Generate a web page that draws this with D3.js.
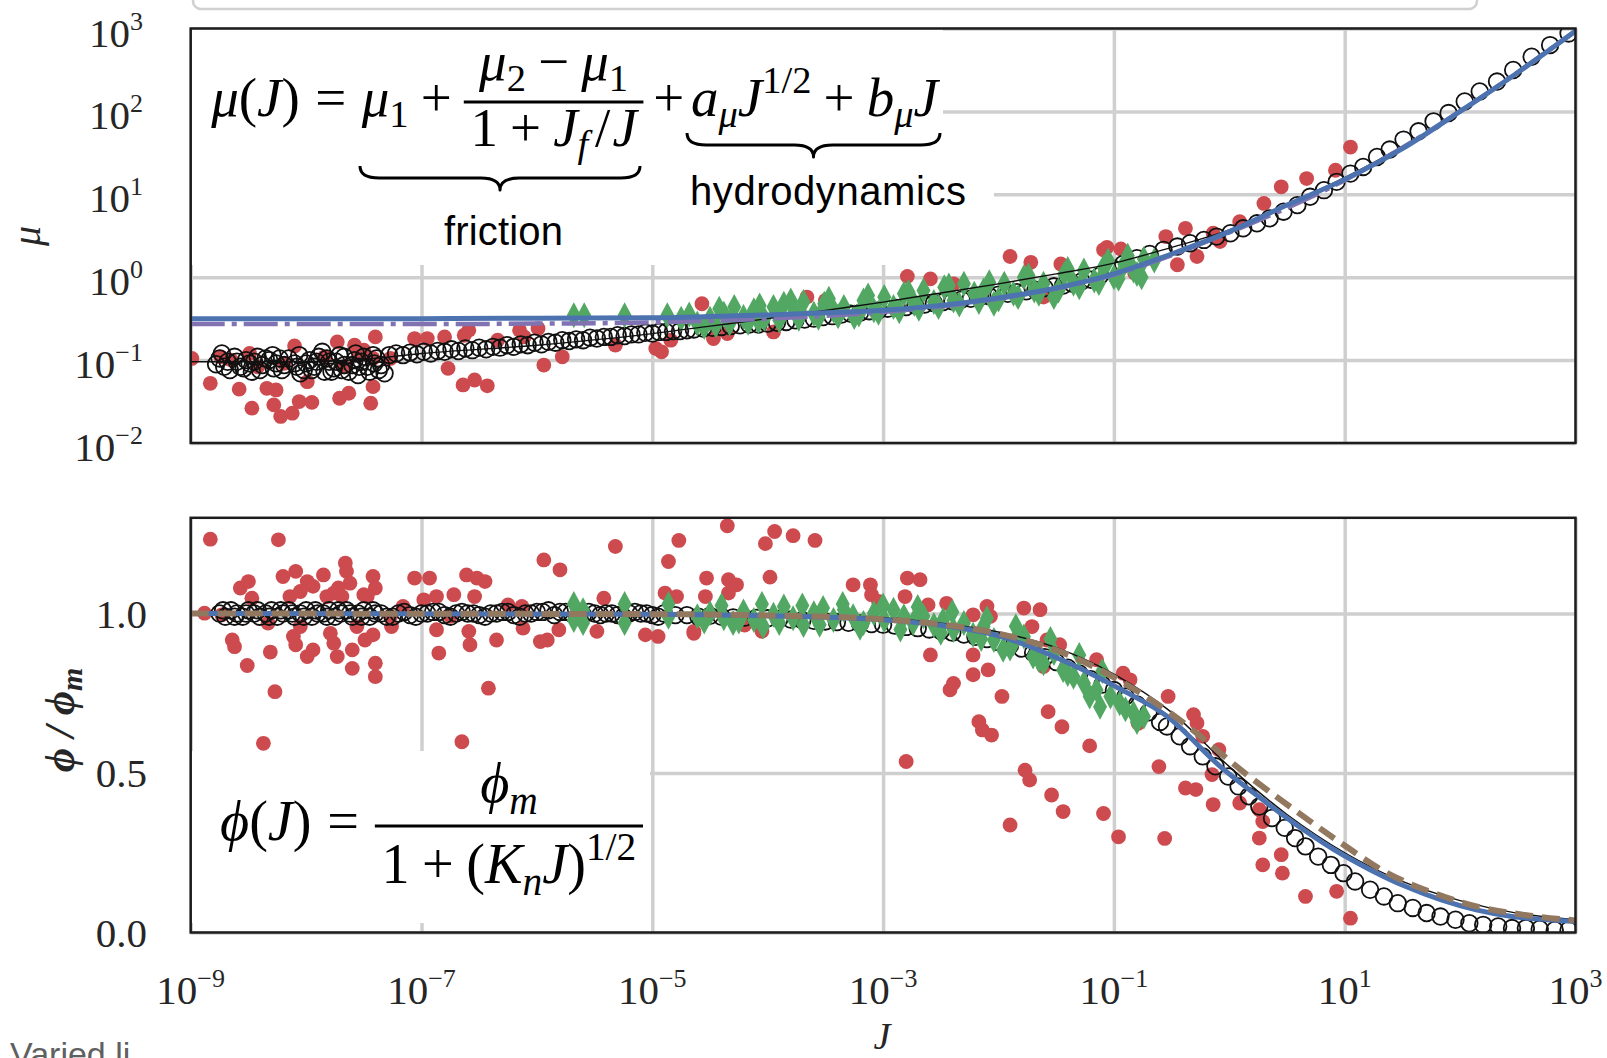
<!DOCTYPE html>
<html>
<head>
<meta charset="utf-8">
<script src="https://cdn.jsdelivr.net/npm/d3@7"></script>
<style>
  body { margin: 0; background: #fff; }
  svg { display: block; }
</style>
</head>
<body>
<svg id="chart" width="1607" height="1058"></svg>
<script>
// mu(J) and phi(J) vs inertial number J, two stacked panels.
// All series are [log10 J, log10 mu] (top) or [log10 J, phi/phi_m] (bottom).

const xTicks = [-9, -7, -5, -3, -1, 1, 3];
const muTicks = [-2, -1, 0, 1, 2, 3];
const phiTicks = [0, 0.5, 1.0];
const phiTickLabels = ['0.0', '0.5', '1.0'];

// ---- top panel: mu ----
const muRed = [
  [-8.99,-0.98],[-8.83,-1.28],[-8.74,-0.96],[-8.65,-1.00],[-8.58,-1.35],[-8.49,-0.92],[-8.47,-1.58],[-8.42,-1.08],
  [-8.34,-1.34],[-8.28,-1.54],[-8.26,-1.36],[-8.22,-1.68],[-8.19,-1.04],[-8.12,-1.64],[-8.10,-0.83],[-8.06,-1.50],
  [-7.99,-1.26],[-7.95,-1.51],[-7.84,-0.96],[-7.73,-0.78],[-7.71,-1.46],[-7.67,-1.08],[-7.63,-1.40],[-7.58,-0.82],
  [-7.54,-0.94],[-7.50,-0.88],[-7.44,-1.52],[-7.42,-1.32],[-7.42,-0.98],[-7.40,-0.72],[-7.27,-0.98],[-7.06,-0.74],
  [-6.95,-0.74],[-6.80,-0.72],[-6.77,-1.10],[-6.64,-1.30],[-6.63,-0.70],[-6.59,-0.64],[-6.54,-1.24],[-6.43,-1.31],
  [-6.34,-0.76],[-6.15,-0.64],[-6.11,-0.72],[-5.99,-0.62],[-5.94,-1.06],[-5.78,-0.96],[-5.32,-0.82],[-4.97,-0.86],
  [-4.92,-0.90],[-4.84,-0.76],[-4.57,-0.32],[-4.47,-0.74],[-4.35,-0.68],[-3.95,-0.66],[-3.66,-0.24],[-3.50,-0.28],
  [-2.79,0.01],[-2.59,-0.02],[-2.39,-0.08],[-1.90,0.25],[-1.72,0.18],[-1.61,-0.24],[-1.46,0.16],[-1.06,0.36],
  [-0.94,0.34],[-1.09,0.33],[-0.82,0.05],[-0.55,0.49],[-0.45,0.15],[-0.38,0.59],[-0.28,0.25],[-0.14,0.53],
  [-0.08,0.43],[0.09,0.67],[0.30,0.89],[0.45,1.09],[0.67,1.19],[0.92,1.29],[1.05,1.57]
];

const muOpen = [
  [-8.75,-0.98],[-8.71,-1.08],[-8.68,-1.02],[-8.62,-0.96],[-8.57,-1.08],[-8.52,-1.00],[-8.49,-1.04],[-8.47,-1.14],
  [-8.42,-0.96],[-8.38,-1.06],[-8.32,-1.00],[-8.29,-0.94],[-8.28,-1.10],[-8.23,-0.98],[-8.19,-1.06],[-8.10,-1.04],
  [-8.06,-0.94],[-8.05,-1.16],[-8.02,-1.12],[-7.97,-1.00],[-7.93,-1.08],[-7.89,-0.96],[-7.86,-0.90],[-7.84,-1.14],
  [-7.80,-1.02],[-7.76,-1.10],[-7.71,-0.94],[-7.67,-1.06],[-7.67,-0.96],[-7.63,-1.14],[-7.58,-1.00],[-7.55,-1.18],
  [-7.54,-1.08],[-7.50,-0.96],[-7.45,-1.14],[-7.42,-0.94],[-7.41,-1.04],[-7.37,-1.12],[-7.32,-1.16],
  [-8.78,-1.05],[-8.73,-0.92],[-8.66,-1.12],[-8.60,-1.02],[-8.54,-1.10],[-8.45,-1.02],[-8.40,-1.12],[-8.35,-0.98],
  [-8.26,-1.04],[-8.21,-1.12],[-8.15,-0.98],[-8.08,-1.08],[-8.00,-1.04],[-7.95,-1.12],[-7.91,-1.02],[-7.82,-0.98],
  [-7.78,-1.14],[-7.74,-1.02],[-7.69,-1.12],[-7.60,-1.06],[-7.57,-0.92],[-7.52,-1.02],[-7.47,-1.08],[-7.39,-0.98],
  [-7.35,-1.06],
  [-7.28,-0.94],[-7.22,-0.92],[-7.16,-0.94],[-7.10,-0.91],[-7.04,-0.93],[-6.98,-0.90],[-6.92,-0.92],[-6.86,-0.89],
  [-6.80,-0.90],[-6.74,-0.87],[-6.68,-0.89],[-6.62,-0.86],[-6.56,-0.88],[-6.50,-0.85],[-6.44,-0.87],[-6.38,-0.84],
  [-6.32,-0.85],[-6.26,-0.82],[-6.20,-0.84],[-6.14,-0.81],[-6.08,-0.82],[-6.02,-0.79],[-5.96,-0.81],[-5.90,-0.78],
  [-5.84,-0.79],[-5.78,-0.76],[-5.72,-0.77],[-5.66,-0.75],[-5.60,-0.76],[-5.54,-0.73],[-5.48,-0.74],[-5.42,-0.72],
  [-5.36,-0.72],[-5.30,-0.70],[-5.24,-0.71],[-5.18,-0.69],[-5.12,-0.69],[-5.06,-0.67],[-5.00,-0.68],[-4.94,-0.66],
  [-4.88,-0.66],[-4.82,-0.65],[-4.76,-0.65],[-4.70,-0.64],
  [-4.64,-0.63],[-4.56,-0.62],[-4.48,-0.61],[-4.40,-0.60],[-4.32,-0.59],[-4.24,-0.58],[-4.16,-0.57],[-4.08,-0.57],
  [-4.00,-0.56],[-3.92,-0.55],[-3.84,-0.54],[-3.76,-0.52],[-3.68,-0.51],[-3.60,-0.50],[-3.52,-0.48],[-3.44,-0.47],
  [-3.36,-0.45],[-3.28,-0.44],[-3.20,-0.43],[-3.12,-0.41],[-3.04,-0.40],[-2.96,-0.38],[-2.88,-0.37],[-2.80,-0.36],
  [-2.72,-0.34],[-2.64,-0.33],[-2.56,-0.31],[-2.48,-0.30],[-2.40,-0.29],[-2.32,-0.27],[-2.24,-0.26],[-2.16,-0.24],
  [-2.08,-0.23],[-2.00,-0.21],[-1.92,-0.20],[-1.84,-0.18],[-1.76,-0.17],[-1.68,-0.15],[-1.60,-0.13],[-1.52,-0.11],
  [-1.44,-0.10],[-1.36,-0.08],[-1.28,-0.05],[-1.20,-0.03],[-1.12,0.02],
  [-1.00,0.10],[-0.92,0.16],[-0.80,0.23],[-0.69,0.28],[-0.57,0.33],[-0.45,0.37],[-0.34,0.41],[-0.22,0.45],
  [-0.11,0.49],[0.01,0.53],[0.12,0.59],[0.24,0.65],[0.35,0.71],[0.47,0.79],[0.59,0.87],[0.70,0.97],
  [0.82,1.05],[0.93,1.15],[1.05,1.25],[1.16,1.33],[1.28,1.45],[1.39,1.54],[1.51,1.66],[1.64,1.76],
  [1.77,1.88],[1.90,1.98],[2.04,2.12],[2.17,2.24],[2.32,2.36],[2.46,2.50],[2.62,2.66],[2.78,2.80],[2.94,2.94]
];

const muGreen = [
  [-5.68,-0.46],[-5.59,-0.46],[-5.24,-0.46],[-4.87,-0.46],[-4.75,-0.50],[-4.68,-0.45],
  [-4.61,-0.56],[-4.50,-0.50],[-4.38,-0.44],[-4.29,-0.36],[-4.21,-0.48],[-4.12,-0.40],[-4.03,-0.50],[-3.95,-0.36],
  [-3.86,-0.32],[-3.77,-0.40],[-3.69,-0.30],[-3.60,-0.44],[-3.51,-0.32],[-3.43,-0.40],[-3.34,-0.36],[-3.25,-0.48],
  [-3.17,-0.28],[-3.08,-0.40],[-2.99,-0.24],[-2.91,-0.36],[-2.82,-0.20],[-2.73,-0.32],[-2.65,-0.16],[-2.56,-0.30],
  [-2.47,-0.12],[-2.39,-0.28],[-2.30,-0.08],[-2.21,-0.20],[-2.13,-0.16],[-2.04,-0.32],[-1.95,-0.08],[-1.87,-0.20],
  [-1.78,0.00],[-1.69,-0.16],[-1.61,-0.08],[-1.52,-0.24],[-1.43,0.04],[-1.35,-0.08],[-1.26,0.08],[-1.17,-0.04],
  [-1.09,0.12],[-1.00,0.00],[-0.91,0.16],[-0.83,0.08],[-0.76,0.00],[-0.74,0.22],[-0.65,0.20],
  [-4.55,-0.60],[-4.45,-0.58],[-4.33,-0.56],[-4.17,-0.55],[-4.08,-0.53],[-3.90,-0.52],[-3.73,-0.50],[-3.56,-0.49],
  [-3.39,-0.47],[-3.21,-0.45],[-3.04,-0.43],[-2.86,-0.41],[-2.69,-0.38],[-2.52,-0.36],[-2.34,-0.33],[-2.17,-0.30],
  [-2.00,-0.27],[-1.83,-0.24],[-1.65,-0.20],[-1.48,-0.16],[-1.30,-0.12],[-1.13,-0.07],[-0.96,-0.02],[-0.80,0.04],
  [-4.42,-0.38],[-4.07,-0.34],[-3.80,-0.28],[-3.47,-0.26],[-3.13,-0.22],[-2.78,-0.18],[-2.43,-0.10],[-2.08,-0.06],
  [-1.74,0.02],[-1.40,0.10],[-1.05,0.20],[-0.88,0.26]
];

const muFitBlue = [[-9,-0.50],[-7,-0.50],[-6,-0.495],[-5,-0.49],[-4.5,-0.475],[-4,-0.455],[-3.5,-0.43],[-3,-0.40],
  [-2.5,-0.34],[-2,-0.25],[-1.5,-0.13],[-1,0.04],[-0.5,0.28],[0,0.55],[0.5,0.87],[1,1.18],[1.5,1.55],[2,2.00],[2.5,2.47],[3,2.97]];
const muFitPurple = [[-9,-0.566],[-7,-0.565],[-6,-0.56],[-5,-0.545],[-4,-0.50],[-3,-0.42],[-2,-0.26],[-1,0.03],
  [0,0.54],[1,1.17],[2,2.0],[3,2.97]];
const muFitBlack = [[-9,-1.02],[-8,-1.02],[-7.5,-0.99],[-7,-0.92],[-6,-0.82],[-5,-0.68],[-4.5,-0.59],[-4,-0.50],
  [-3.5,-0.40],[-3,-0.30],[-2.5,-0.19],[-2,-0.08],[-1.5,0.04],[-1,0.17],[-0.5,0.36],[0,0.57],[0.5,0.88],[1,1.2],[2,2.0],[3,2.97]];

// ---- bottom panel: phi / phi_m ----
const phiRed = [
  [-8.83,1.233],[-8.24,1.231],[-8.57,1.080],[-8.50,1.100],[-8.47,1.048],[-8.20,1.116],[-8.09,1.132],[-8.14,1.053],
  [-7.99,1.100],[-7.94,1.085],[-7.85,1.121],[-8.05,1.069],[-7.82,1.053],[-7.76,1.064],[-7.72,1.080],[-7.66,1.158],
  [-7.65,1.132],[-7.62,1.095],[-7.69,1.053],[-7.50,1.059],[-7.42,1.116],[-7.40,1.080],[-7.47,1.053],[-7.06,1.111],
  [-6.93,1.111],[-6.87,1.053],[-6.72,1.059],[-6.61,1.121],[-6.52,1.111],[-6.45,1.100],[-6.54,1.053],[-5.94,1.168],
  [-5.80,1.137],[-5.32,1.210],[-4.77,1.229],[-4.86,1.163],[-4.89,1.064],[-4.79,1.053],[-5.42,1.048],[-6.13,1.022],
  [-6.12,0.954],[-8.64,0.917],[-8.62,0.896],[-8.51,0.837],[-8.31,0.879],[-8.27,0.755],[-8.37,0.593],[-8.11,0.928],
  [-8.09,0.902],[-7.99,0.865],[-7.94,0.886],[-7.79,0.938],[-7.76,0.907],[-7.73,0.865],[-7.60,0.886],[-7.60,0.828],
  [-7.49,0.917],[-7.42,0.933],[-7.40,0.844],[-7.40,0.802],[-7.26,0.959],[-6.87,0.949],[-6.85,0.876],[-6.59,0.944],
  [-6.58,0.902],[-6.42,0.766],[-6.65,0.598],[-6.35,0.917],[-5.97,0.912],[-5.91,0.917],[-5.81,0.949],[-5.48,0.944],
  [-5.06,0.933],[-4.95,0.928],[-4.64,0.944],[-7.16,1.022],[-6.98,1.043],[-6.25,1.027],[-8.88,1.001],[-8.73,0.996],
  [-8.33,0.970],[-8.05,0.959],[-7.56,0.959],[-7.27,0.991],[-6.75,0.991],
  [-4.35,1.275],[-4.02,1.219],[-3.94,1.257],[-3.78,1.244],[-3.59,1.229],[-4.53,1.111],[-4.34,1.106],[-4.27,1.090],
  [-3.98,1.114],[-4.54,1.053],[-4.34,1.064],[-4.20,0.964],[-4.05,0.944],[-4.64,0.938],[-3.26,1.090],[-3.11,1.090],
  [-3.10,1.059],[-2.79,1.111],[-2.68,1.106],[-2.81,1.053],[-2.61,1.027],[-2.45,1.032],[-2.22,0.996],[-2.10,1.022],
  [-2.07,0.991],[-1.78,1.017],[-1.64,1.012],[-1.71,0.959],[-1.58,0.917],[-1.47,0.902],[-1.15,0.855],[-0.92,0.813],
  [-0.86,0.792],[-2.59,0.870],[-2.22,0.870],[-2.22,0.808],[-2.09,0.823],[-2.42,0.761],[-2.39,0.781],[-1.97,0.740],
  [-1.57,0.692],[-1.45,0.645],[-1.21,0.585],[-2.17,0.661],[-2.14,0.635],[-2.06,0.619],[-2.80,0.536],[-1.77,0.509],
  [-1.73,0.478],[-1.54,0.431],[-1.44,0.379],[-1.90,0.337],[-1.09,0.373],[-0.96,0.300],[-0.61,0.520],[-0.56,0.295],
  [-0.79,0.656],[-0.53,0.740],[-3.04,1.038],[-1.61,0.834],
  [-0.31,0.683],[-0.28,0.657],[-0.38,0.453],[-0.29,0.448],[-0.23,0.615],[-0.09,0.573],[-0.15,0.495],[-0.14,0.401],
  [0.09,0.406],[0.26,0.385],[0.29,0.348],[0.26,0.296],[0.45,0.244],[0.29,0.212],[0.46,0.186],[0.66,0.113],
  [0.93,0.129],[1.05,0.045]
];

const phiOpen = [
  [-8.75,1.00],[-8.70,0.99],[-8.65,1.01],[-8.60,1.00],[-8.55,0.99],[-8.50,1.01],[-8.45,1.00],[-8.40,0.99],
  [-8.35,1.00],[-8.30,1.01],[-8.25,0.99],[-8.20,1.00],[-8.15,1.01],[-8.10,0.99],[-8.05,1.00],[-8.00,1.01],
  [-7.95,0.99],[-7.90,1.00],[-7.85,1.00],[-7.80,1.01],[-7.75,0.99],[-7.70,1.00],[-7.65,1.01],[-7.60,0.99],
  [-7.55,1.00],[-7.50,1.01],[-7.45,0.99],[-7.40,1.00],[-7.35,1.00],[-7.30,0.99],
  [-8.72,1.01],[-8.62,0.99],[-8.52,1.00],[-8.42,1.01],[-8.32,0.99],[-8.22,1.01],[-8.12,1.00],[-8.02,0.99],
  [-7.92,1.01],[-7.82,0.99],[-7.72,1.01],[-7.62,1.00],[-7.52,0.99],[-7.42,1.01],
  [-7.2,1.00],[-7.1,0.995],[-7.0,1.00],[-6.9,1.005],[-6.8,0.995],[-6.7,1.00],[-6.6,1.00],[-6.5,0.995],
  [-6.4,1.00],[-6.3,1.005],[-6.2,0.995],[-6.1,1.00],[-6.0,1.005],[-5.9,1.01],[-5.8,1.005],[-5.7,1.00],
  [-5.6,0.995],[-5.5,1.00],[-5.4,1.00],[-5.3,0.995],[-5.2,1.00],[-5.1,1.00],[-5.0,0.995],[-4.9,1.00],
  [-7.25,0.99],[-7.15,1.005],[-7.05,0.99],[-6.95,1.00],[-6.85,1.005],[-6.75,0.99],[-6.65,1.005],[-6.55,1.00],
  [-6.45,0.99],[-6.35,1.00],[-6.25,1.005],[-6.15,0.99],[-6.05,1.00],[-5.95,1.005],[-5.85,0.995],[-5.75,1.005],
  [-5.65,0.99],[-5.55,1.005],[-5.45,0.995],[-5.35,1.00],[-5.25,0.99],[-5.15,1.005],[-5.05,1.00],[-4.95,0.99],
  [-4.8,0.995],[-4.7,0.995],[-4.6,0.99],[-4.5,0.993],[-4.4,0.99],[-4.3,0.988],[-4.2,0.987],[-4.1,0.986],
  [-4.0,0.985],[-3.9,0.983],[-3.8,0.981],[-3.7,0.979],[-3.6,0.977],[-3.5,0.975],[-3.4,0.973],[-3.3,0.971],
  [-3.2,0.969],[-3.1,0.967],[-3.0,0.965],[-2.9,0.962],[-2.8,0.958],[-2.7,0.954],[-2.6,0.95],[-2.5,0.945],
  [-2.4,0.94],[-2.3,0.934],[-2.2,0.927],[-2.1,0.92],[-2.0,0.911],[-1.9,0.90],[-1.8,0.89],[-1.7,0.877],
  [-1.6,0.863],[-1.5,0.848],[-1.4,0.83],[-1.3,0.812],[-1.2,0.794],[-1.1,0.777],[-1.0,0.76],[-0.9,0.74],
  [-0.8,0.715],[-0.7,0.69],[-0.6,0.66],
  [-0.54,0.646],[-0.43,0.615],[-0.34,0.584],[-0.23,0.552],[-0.12,0.521],[-0.01,0.489],[0.08,0.458],[0.17,0.427],
  [0.26,0.395],[0.37,0.359],[0.48,0.328],[0.57,0.296],[0.66,0.270],[0.77,0.238],[0.88,0.212],[0.99,0.186],
  [1.09,0.160],[1.22,0.134],[1.34,0.113],[1.46,0.092],[1.59,0.077],[1.71,0.061],[1.83,0.050],[1.96,0.040],
  [2.08,0.029],[2.20,0.024],[2.33,0.019],[2.45,0.014],[2.57,0.014],[2.69,0.011],[2.82,0.008],[2.94,0.008]
];

const phiGreen = [
  [-5.68,1.03],[-5.68,0.98],[-5.60,0.97],[-5.60,1.01],[-5.24,1.03],[-5.24,0.97],[-4.86,1.03],[-4.86,0.99],
  [-4.61,0.991],[-4.50,1.001],[-4.38,0.985],[-4.30,0.970],[-4.21,1.006],[-4.12,0.980],[-4.04,0.959],[-3.95,0.996],
  [-3.86,1.022],[-3.78,0.985],[-3.69,0.964],[-3.60,1.001],[-3.52,1.017],[-3.43,0.980],[-3.34,1.012],[-3.26,0.991],
  [-3.17,0.970],[-3.08,1.001],[-2.99,0.980],[-2.91,1.012],[-2.82,0.991],[-2.74,0.970],[-2.65,0.991],[-2.56,0.964],
  [-2.48,0.980],[-2.39,0.949],[-2.30,0.970],[-2.22,0.933],[-2.13,0.959],[-2.04,0.917],[-1.96,0.886],[-1.87,0.907],
  [-1.78,0.928],[-1.70,0.865],[-1.61,0.844],[-1.52,0.876],[-1.44,0.823],[-1.35,0.802],[-1.26,0.781],[-1.21,0.740],
  [-1.12,0.708],[-1.03,0.740],[-0.95,0.719],[-0.83,0.687],[-0.74,0.677],
  [-4.55,0.975],[-4.25,0.975],[-3.90,0.97],[-3.55,0.965],[-3.20,0.955],[-2.85,0.95],[-2.50,0.94],[-2.15,0.92],
  [-1.90,0.89],[-1.65,0.855],[-1.40,0.81],[-1.15,0.76],[-0.90,0.70],[-0.80,0.66],
  [-4.40,1.025],[-4.05,1.03],[-3.70,1.025],[-3.35,1.03],[-3.00,1.025],[-2.70,1.02],[-2.40,1.005],[-2.10,0.985],
  [-1.85,0.96],[-1.55,0.92],[-1.30,0.87],[-1.10,0.82]
];

const phiFitBlue = [[-9,1.0],[-5,0.998],[-4,0.993],[-3,0.98],[-2.5,0.963],[-2,0.93],[-1.55,0.87],[-0.94,0.762],
  [-0.54,0.678],[-0.08,0.521],[0.29,0.416],[0.6,0.333],[0.91,0.259],[1.22,0.197],[1.53,0.144],[1.83,0.103],
  [2.14,0.071],[2.45,0.050],[2.76,0.040],[3,0.034]];
const phiFitBrown = [[-9,1.0],[-5,0.998],[-4,0.994],[-3,0.982],[-2.5,0.966],[-2,0.937],[-1.5,0.885],[-1.0,0.80],
  [-0.5,0.685],[0.17,0.49],[0.6,0.375],[0.97,0.28],[1.37,0.186],[1.77,0.124],[2.14,0.082],[2.54,0.056],[3,0.038]];
const phiFitBlack = [[-9,1.0],[-5,1.0],[-4,0.996],[-3,0.986],[-2.5,0.97],[-2,0.942],[-1.5,0.893],[-1,0.81],
  [-0.5,0.69],[0,0.52],[0.5,0.37],[1,0.25],[1.5,0.16],[2,0.10],[2.5,0.06],[3,0.04]];

// ---- setup ----
const SERIF = '"Liberation Serif","Times New Roman","DejaVu Serif",serif';
const SANS = '"Liberation Sans",Arial,Helvetica,sans-serif';
const RED = '#cd4a4e', GREEN = '#52a862', BLUE = '#4c72b0', PURPLE = '#8172b2', BROWN = '#937860';
const GRID = '#cfcfcf', TXT = '#262626';

const svg = d3.select('#chart');
const X0 = 190.7, X1 = 1575.5;
const TOP = { t: 28.5, b: 443 }, BOT = { t: 517.8, b: 932.5 };

const x = d3.scaleLog().domain([1e-9, 1e3]).range([X0, X1]);
const yMu = d3.scaleLog().domain([1e-2, 1e3]).range([TOP.b, TOP.t]);
const yPhi = d3.scaleLinear().domain([0, 1.3]).range([BOT.b, BOT.t]);

const pw = e => Math.pow(10, e);

// remnant of the legend box above (cropped)
svg.append('rect').attr('x', 193).attr('y', -30).attr('width', 1284).attr('height', 39).attr('rx', 8)
  .attr('fill', '#fff').attr('stroke', '#d0d0d0').attr('stroke-width', 2.5);

const defs = svg.append('defs');
[['clipTop', TOP], ['clipBot', BOT]].forEach(([id, p]) => {
  defs.append('clipPath').attr('id', id).append('rect')
    .attr('x', X0).attr('y', p.t).attr('width', X1 - X0).attr('height', p.b - p.t);
});

function grid(yScale, yVals, p) {
  svg.append('g').attr('transform', `translate(0,${p.b})`)
    .call(d3.axisBottom(x).tickValues(xTicks.map(pw)).tickSize(-(p.b - p.t)).tickFormat(''))
    .call(a => a.select('.domain').remove())
    .call(a => a.selectAll('.tick line').attr('stroke', GRID).attr('stroke-width', 3.5));
  svg.append('g').attr('transform', `translate(${X0},0)`)
    .call(d3.axisLeft(yScale).tickValues(yVals).tickSize(-(X1 - X0)).tickFormat(''))
    .call(a => a.select('.domain').remove())
    .call(a => a.selectAll('.tick line').attr('stroke', GRID).attr('stroke-width', 3.5));
}
grid(yMu, muTicks.map(pw), TOP);
grid(yPhi, phiTicks, BOT);

// white boxes behind the annotations
function whiteBox(x0, x1, y0, y1) {
  svg.append('rect').attr('x', x0).attr('y', y0).attr('width', x1 - x0).attr('height', y1 - y0).attr('fill', '#fff');
}
whiteBox(X0 + 1, 943, TOP.t + 1, 265);
whiteBox(930, 994, 160, 225);
whiteBox(X0 + 1, 650, 751, 923);

// ---- series ----
function panel(clip, yScale, isLog, red, open, green, lines) {
  const g = svg.append('g').attr('clip-path', `url(#${clip})`);
  const yv = d => isLog ? yScale(pw(d[1])) : yScale(d[1]);
  const xv = d => x(pw(d[0]));

  g.append('g').selectAll('circle').data(red).join('circle')
    .attr('cx', xv).attr('cy', yv).attr('r', 7.4).attr('fill', RED);

  g.append('g').selectAll('circle').data(open).join('circle')
    .attr('cx', xv).attr('cy', yv).attr('r', 8.3)
    .attr('fill', 'none').attr('stroke', '#111').attr('stroke-width', 1.8);

  g.append('g').selectAll('path').data(green).join('path')
    .attr('d', 'M0,-13L7,0L0,13L-7,0Z')
    .attr('transform', d => `translate(${xv(d)},${yv(d)})`)
    .attr('fill', GREEN);

  const line = d3.line().x(xv).y(yv).curve(d3.curveMonotoneX);
  lines.forEach(l => {
    g.append('path').datum(l.data).attr('d', line).attr('fill', 'none')
      .attr('stroke', l.color).attr('stroke-width', l.w)
      .attr('stroke-dasharray', l.dash || null);
  });
}

panel('clipTop', yMu, true, muRed, muOpen, muGreen, [
  { data: muFitBlack, color: '#111', w: 1.4 },
  { data: muFitPurple, color: PURPLE, w: 4.5, dash: '34,7,5,7' },
  { data: muFitBlue, color: BLUE, w: 5 }
]);
panel('clipBot', yPhi, false, phiRed, phiOpen, phiGreen, [
  { data: phiFitBlack, color: '#111', w: 1.4 },
  { data: phiFitBlue, color: BLUE, w: 5 },
  { data: phiFitBrown, color: BROWN, w: 6, dash: '18,9' }
]);

// frames
[TOP, BOT].forEach(p => {
  svg.append('rect').attr('x', X0).attr('y', p.t).attr('width', X1 - X0).attr('height', p.b - p.t)
    .attr('fill', 'none').attr('stroke', '#1c1c1c').attr('stroke-width', 2.5);
});

// ---- tick labels ----
function powLabel(t, e) {
  t.append('tspan').text('10');
  t.append('tspan').attr('dy', -17).attr('font-size', 26).text(e < 0 ? '\u2212' + (-e) : String(e));
}
muTicks.forEach(e => {
  const t = svg.append('text').attr('x', 143).attr('y', yMu(pw(e)) + 18)
    .attr('text-anchor', 'end').attr('font-family', SERIF).attr('font-size', 41).attr('fill', TXT);
  powLabel(t, e);
});
phiTicks.forEach((v, i) => {
  svg.append('text').attr('x', 147).attr('y', yPhi(v) + 14)
    .attr('text-anchor', 'end').attr('font-family', SERIF).attr('font-size', 41).attr('fill', TXT)
    .text(phiTickLabels[i]);
});
xTicks.forEach(e => {
  const t = svg.append('text').attr('x', x(pw(e))).attr('y', 1004)
    .attr('text-anchor', 'middle').attr('font-family', SERIF).attr('font-size', 41).attr('fill', TXT);
  powLabel(t, e);
});

// axis titles
svg.append('text').attr('transform', 'translate(40,236) rotate(-90)')
  .attr('text-anchor', 'middle').attr('font-family', SERIF).attr('font-style', 'italic')
  .attr('font-size', 40).attr('fill', TXT).text('μ');
const phiLab = svg.append('text').attr('transform', 'translate(74,720) rotate(-90)')
  .attr('text-anchor', 'middle').attr('font-family', SERIF).attr('font-style', 'italic')
  .attr('font-weight', 'bold').attr('font-size', 42).attr('fill', TXT);
phiLab.append('tspan').text('ϕ / ϕ');
phiLab.append('tspan').attr('font-size', 30).attr('dy', 8).text('m');
svg.append('text').attr('x', 882).attr('y', 1049).attr('text-anchor', 'middle')
  .attr('font-family', SERIF).attr('font-style', 'italic').attr('font-size', 38).attr('fill', TXT).text('J');

// ---- equations ----
const I = t => ({ t, it: true });
const R = t => ({ t });
const SB = (t, it) => ({ t, it, s: 0.7, dy: 0.2 });
const SP = t => ({ t, s: 0.7, dy: -0.42 });
const G = n => ({ gap: n });

function runMath(g, x0, base, S, parts) {
  let cx = x0;
  parts.forEach(p => {
    if (p.gap) { cx += p.gap * S; return; }
    const t = g.append('text').attr('x', cx).attr('y', base + (p.dy || 0) * S)
      .attr('font-family', SERIF).attr('font-size', S * (p.s || 1))
      .attr('font-style', p.it ? 'italic' : 'normal').attr('fill', '#000').text(p.t);
    cx += t.node().getComputedTextLength();
  });
  return cx;
}
function fraction(g, cx, S, num, den, nShift, dShift) {
  const axis = -0.25 * S;
  const ng = g.append('g'), dg = g.append('g');
  const nw = runMath(ng, 0, 0, S, num), dw = runMath(dg, 0, 0, S, den);
  const bw = Math.max(nw, dw) + 0.24 * S;
  ng.attr('transform', `translate(${cx + (bw - nw) / 2},${axis - nShift * S})`);
  dg.attr('transform', `translate(${cx + (bw - dw) / 2},${axis + dShift * S})`);
  g.append('line').attr('x1', cx).attr('x2', cx + bw).attr('y1', axis).attr('y2', axis)
    .attr('stroke', '#000').attr('stroke-width', 0.05 * S);
  return cx + bw;
}
function fitTo(g, left, width, axisY, S) {
  const b = g.node().getBBox();
  const k = width / b.width;
  g.attr('transform', `translate(${left - b.x * k},${axisY + 0.25 * S * k}) scale(${k})`);
}

const S = 48;
const eqTop = svg.append('g');
let cx = runMath(eqTop, 0, 0, S, [I('μ'), R('('), I('J'), R(')'), G(0.28), R('='), G(0.28), I('μ'), SB('1'), G(0.22), R('+'), G(0.22)]);
cx = fraction(eqTop, cx, S,
  [I('μ'), SB('2'), G(0.22), R('\u2212'), G(0.22), I('μ'), SB('1')],
  [R('1'), G(0.22), R('+'), G(0.22), I('J'), SB('f', true), G(0.12), R('/'), G(0.04), I('J')], 0.40, 0.80);
runMath(eqTop, cx, 0, S, [G(0.18), R('+'), G(0.12), I('a'), SB('μ', true), I('J'), SP('1/2'), G(0.22), R('+'), G(0.22), I('b'), SB('μ', true), I('J')]);
fitTo(eqTop, 210, 731, 102, S);

const eqBot = svg.append('g');
cx = runMath(eqBot, 0, 0, S, [I('ϕ'), R('('), I('J'), R(')'), G(0.28), R('='), G(0.28)]);
fraction(eqBot, cx, S,
  [I('ϕ'), SB('m', true)],
  [R('1'), G(0.22), R('+'), G(0.22), R('('), I('K'), SB('n', true), I('J'), R(')'), SP('1/2')], 0.42, 1.02);
fitTo(eqBot, 220, 423, 826, S);

// underbraces + words
function brace(x1, x2, y, h) {
  const m = (x1 + x2) / 2, q = h / 2, c = Math.min(q * 1.6, (x2 - x1) / 6);
  return `M${x1},${y} Q${x1},${y + q} ${x1 + c},${y + q} L${m - c},${y + q} Q${m},${y + q} ${m},${y + h}` +
    ` Q${m},${y + q} ${m + c},${y + q} L${x2 - c},${y + q} Q${x2},${y + q} ${x2},${y}`;
}
svg.append('path').attr('d', brace(360, 640, 166, 24)).attr('fill', 'none')
  .attr('stroke', '#000').attr('stroke-width', 3).attr('stroke-linejoin', 'round');
svg.append('path').attr('d', brace(687, 940, 133, 24)).attr('fill', 'none')
  .attr('stroke', '#000').attr('stroke-width', 3).attr('stroke-linejoin', 'round');
svg.append('text').attr('x', 444).attr('y', 245).attr('font-family', SANS).attr('font-size', 40)
  .attr('textLength', 119).attr('fill', '#000').text('friction');
svg.append('text').attr('x', 690).attr('y', 205).attr('font-family', SANS).attr('font-size', 40)
  .attr('textLength', 276).attr('fill', '#000').text('hydrodynamics');

// cropped caption at the very bottom
svg.append('text').attr('x', 10).attr('y', 1066).attr('font-family', SANS).attr('font-size', 34)
  .attr('fill', '#606060').text('Varied li');
</script>
</body>
</html>
